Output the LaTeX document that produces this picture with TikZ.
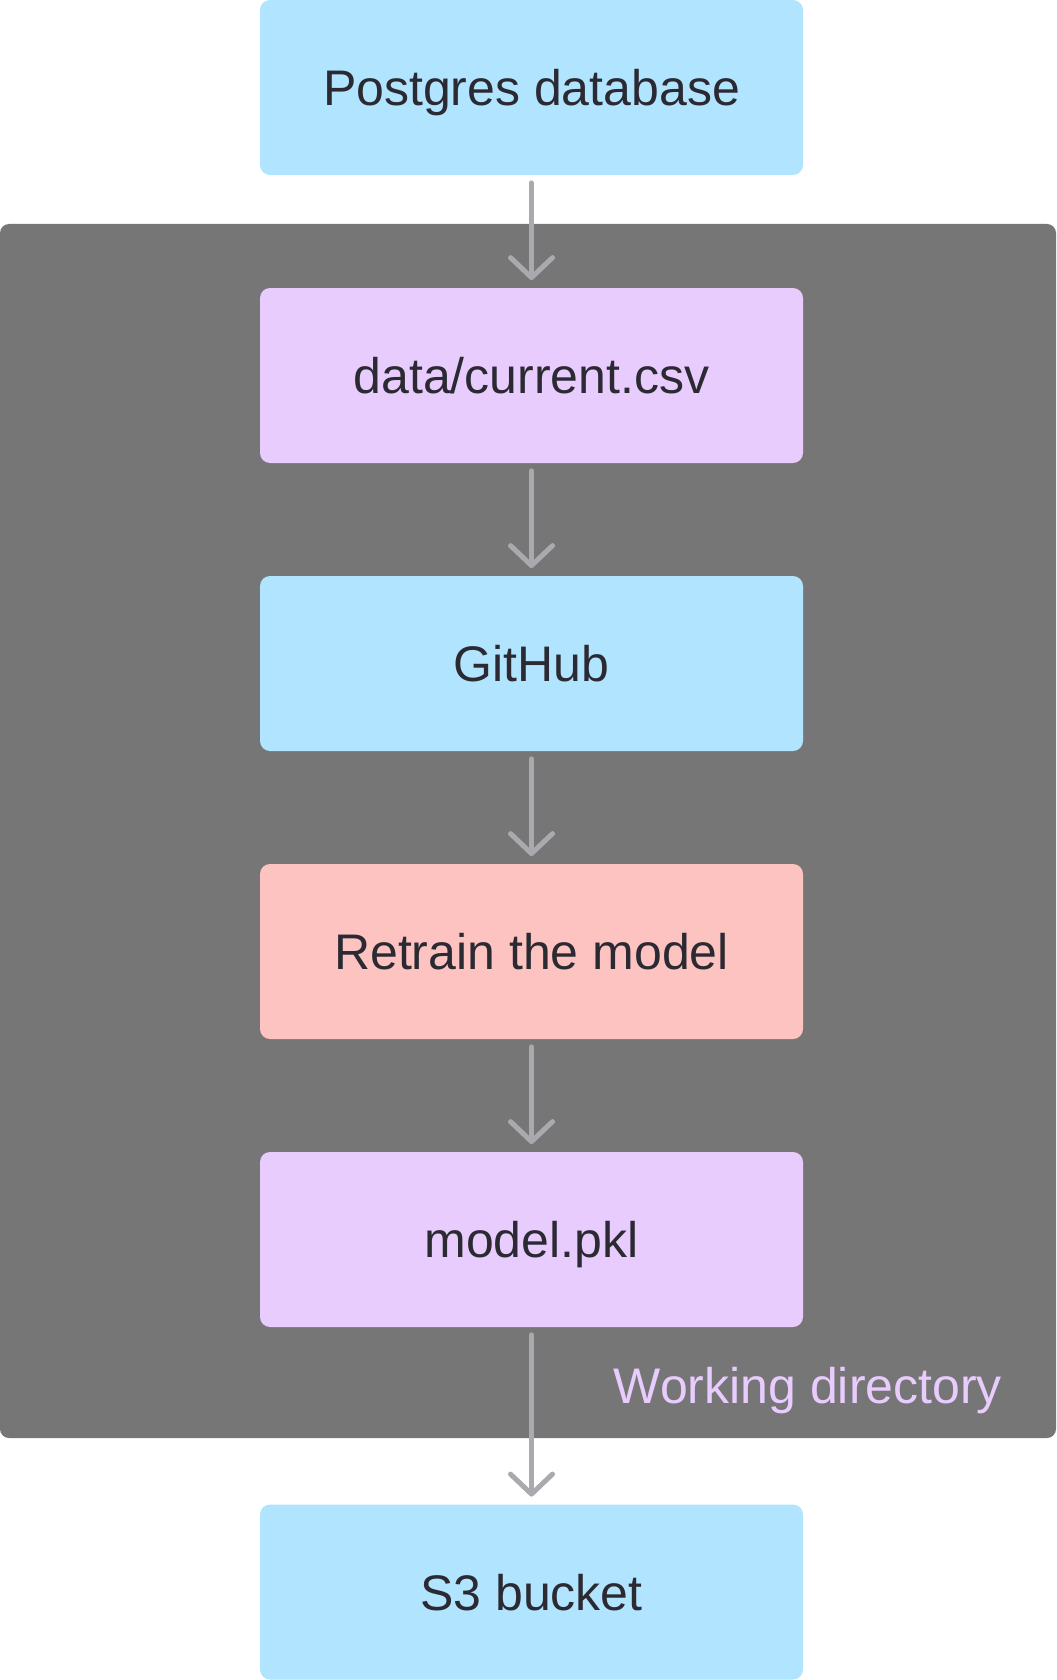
\documentclass[tikz,border=0pt]{standalone}
\usepackage{fontspec}
\setmainfont{Liberation Sans}
\usetikzlibrary{arrows.meta}
\definecolor{celeste}{HTML}{B1E4FE}
\definecolor{lila}{HTML}{E8CCFD}
\definecolor{rosa}{HTML}{FDC3C1}
\definecolor{fondo}{HTML}{767676}
\definecolor{flecha}{HTML}{A9AAAE}
\definecolor{texto}{HTML}{2B2A33}
\tikzset{
  caja/.style={rounded corners=5pt, minimum width=271.5pt, minimum height=87.5pt,
    inner sep=0pt, text=texto, font=\fontsize{25}{30}\selectfont,
    text height=18pt, text depth=0pt},
  flujo/.style={flecha, line width=2.5pt, line cap=round,
    -{Straight Barb[length=10pt,width=21pt,round]},
    shorten <=3.75pt, shorten >=3.75pt}
}

\begin{document}
\begin{tikzpicture}
        \useasboundingbox (0,0) rectangle (528pt,-840pt);
        % Fondo
        \fill[fondo, rounded corners=4.5pt] (0,-112pt) rectangle (528pt,-719pt);
        \node[anchor=base east, text=lila, font=\fontsize{25}{30}\selectfont] (wd) at (504.5pt,-701.5pt) {Working directory};
        % Cajas
        \node[caja, fill=celeste] (pg) at (265.75pt,-43.75pt) {Postgres database};
        \node[caja, fill=lila] (csv) at (265.75pt,-187.75pt) {data/current.csv};
        \node[caja, fill=celeste] (gh) at (265.75pt,-331.75pt) {GitHub};
        \node[caja, fill=rosa] (rt) at (265.75pt,-475.75pt) {Retrain the model};
        \node[caja, fill=lila] (pkl) at (265.75pt,-619.75pt) {model.pkl};
        \node[caja, fill=celeste] (s3) at (265.75pt,-796pt) {S3 bucket};
        % Flechas
        \foreach \a/\b in {pg/csv, csv/gh, gh/rt, rt/pkl, pkl/s3}{
            \draw[flujo] (\a) -- (\b);
        }
    \end{tikzpicture}
\end{document}
